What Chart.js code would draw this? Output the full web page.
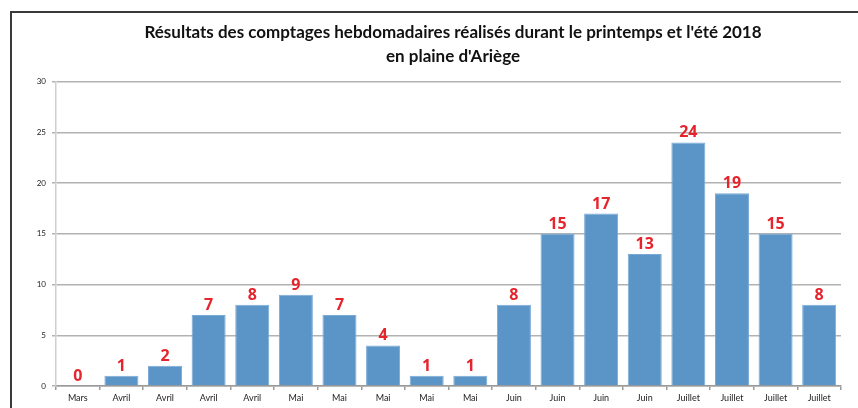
<!DOCTYPE html>
<html>
<head>
<meta charset="utf-8">
<script src="https://cdn.jsdelivr.net/npm/chart.js@4"></script>
<style>
  html, body { margin:0; padding:0; background:#fff; overflow:hidden; width:858px; height:408px; }
  #frame { position:absolute; left:10px; top:11px; width:900px; height:420px; border-left:2px solid #3a3a3a; border-top:2px solid #3a3a3a; }
  #myChart { position:absolute; left:11px; top:12px; }
</style>
</head>
<body>
<div id="frame"></div>
<canvas id="myChart" width="884" height="396"></canvas>
<script>
// data
const titleLines = ["Résultats des comptages hebdomadaires réalisés durant le printemps et l'été 2018", "en plaine d'Ariège"];
const months = ["Mars","Avril","Avril","Avril","Avril","Mai","Mai","Mai","Mai","Mai","Juin","Juin","Juin","Juin","Juillet","Juillet","Juillet","Juillet"];
const counts = [0,1,2,7,8,9,7,4,1,1,8,15,17,13,24,19,15,8];
const yTicks = [0,5,10,15,20,25,30];

// red numbers above each bar
const valueLabels = {
    id: 'valueLabels',
    afterDatasetsDraw(chart){
        const ctx = chart.ctx;
        const meta = chart.getDatasetMeta(0);
        ctx.save();
        ctx.fillStyle = '#e5242c';
        ctx.font = 'bold 16px "Open Sans"';
        ctx.textAlign = 'center';
        ctx.textBaseline = 'alphabetic';
        meta.data.forEach(function(bar, i){
            ctx.fillText(String(counts[i]), bar.x, bar.y - 5);
        });
        ctx.restore();
    }
};

const ThisChart = document.getElementById('myChart');
const bars = new Chart(ThisChart, {
    type: 'bar',
    data: {
        labels: months,
        datasets: [{
            data: counts,
            backgroundColor: '#5b95c7',
            borderColor: '#79aad6',
            borderWidth: 1,
            categoryPercentage: 1,
            barPercentage: 0.78
        }]
    },
    options: {
        responsive: false,
        animation: false,
        layout: { padding: 0 },
        plugins: {
            legend: { display: false },
            tooltip: { enabled: false },
            title: {
                display: true,
                text: titleLines,
                color: '#111',
                font: { family: 'Lato', size: 17, weight: 'bold', lineHeight: 1.4 },
                padding: { top: 9, bottom: 13 }
            }
        },
        scales: {
            x: {
                grid: { drawOnChartArea: false, drawTicks: true, tickLength: 4, color: '#9a9a9a', lineWidth: 1.5 },
                border: { color: '#9a9a9a', width: 1.5 },
                ticks: { color: '#222', font: { family: 'Lato', size: 9 }, padding: 3, maxRotation: 0, autoSkip: false },
                afterFit: function(s){ s.height = 22; }
            },
            y: {
                min: 0, max: 30,
                afterBuildTicks: function(s){ s.ticks = yTicks.map(function(v){ return {value: v}; }); },
                grid: { color: '#b2b2b2', lineWidth: 1.5, tickLength: 4 },
                border: { color: '#cfcfcf', width: 1.5 },
                ticks: { color: '#222', font: { family: 'Lato', size: 8 }, padding: 6 },
                afterFit: function(s){ s.width = 45; }
            },
            spacer: {
                position: 'right',
                grid: { display: false },
                border: { display: false },
                ticks: { display: false },
                afterFit: function(s){ s.width = 54; }
            }
        }
    },
    plugins: [valueLabels]
});
</script>
</body>
</html>
